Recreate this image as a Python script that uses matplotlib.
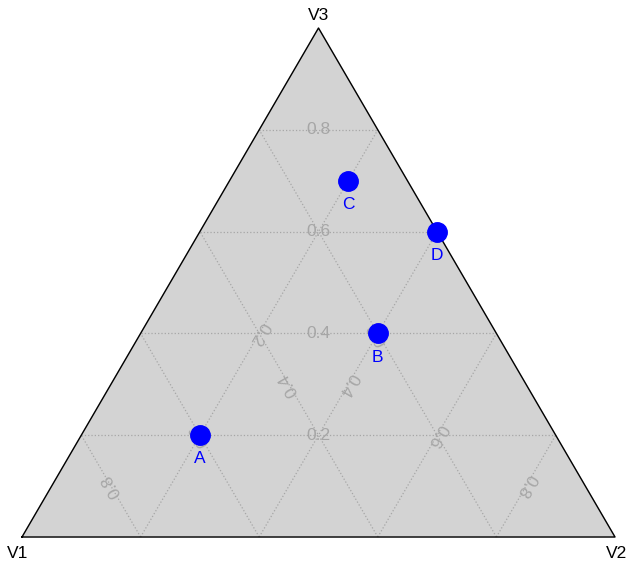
import numpy as np
import matplotlib.pyplot as plt
from matplotlib.transforms import ScaledTranslation

plt.rcParams['font.family'] = ['Liberation Sans', 'DejaVu Sans']

# compositions (V1, V2, V3) of the four samples
names = ['A', 'B', 'C', 'D']
v1 = [0.6, 0.2, 0.1, 0.0]
v2 = [0.2, 0.4, 0.2, 0.4]
v3 = [0.2, 0.4, 0.7, 0.6]

axis_names = ['V1', 'V2', 'V3']
grid_vals = [0.2, 0.4, 0.6, 0.8]

H = np.sqrt(3) / 2
FS = 12.5


def tern(a, b, c):
    # barycentric -> cartesian, V1 bottom-left, V2 bottom-right, V3 top
    a, b, c = np.asarray(a, float), np.asarray(b, float), np.asarray(c, float)
    s = a + b + c
    return (b + c / 2) / s, c * H / s


fig = plt.figure(figsize=(6.27, 5.63), dpi=100)
ax = fig.add_axes([0, 0, 1, 1])
ax.set_xlim(-22 / 593, 605 / 593)
ax.set_ylim(-26 / 587.7, 537 / 587.7)
ax.axis('off')

# triangle
tx, ty = tern([1, 0, 0, 1], [0, 1, 0, 0], [0, 0, 1, 0])
ax.fill(tx, ty, color='#d3d3d3', zorder=0)
ax.plot(tx, ty, color='black', lw=1, zorder=3)

gcol = '#a6a6a6'
for g in grid_vals:
    r = 1 - g
    # V3 = g (horizontal)
    x, y = tern([r, 0], [0, r], [g, g])
    ax.plot(x, y, ls=':', color=gcol, lw=0.9, zorder=1)
    mx, my = tern(r / 2, r / 2, g)
    ax.text(mx, my, f'{g:.1f}', color=gcol, fontsize=FS,
            ha='center', va='center', zorder=2)
    # V1 = g (parallel to right edge)
    x, y = tern([g, g], [r, 0], [0, r])
    ax.plot(x, y, ls=':', color=gcol, lw=0.9, zorder=1)
    mx, my = tern(g, r / 2, r / 2)
    ax.text(mx, my, f'{g:.1f}', color=gcol, fontsize=FS, rotation=120,
            rotation_mode='anchor', ha='center', va='center', zorder=2)
    # V2 = g (parallel to left edge)
    x, y = tern([r, 0], [g, g], [0, r])
    ax.plot(x, y, ls=':', color=gcol, lw=0.9, zorder=1)
    mx, my = tern(r / 2, g, r / 2)
    ax.text(mx, my, f'{g:.1f}', color=gcol, fontsize=FS, rotation=240,
            rotation_mode='anchor', ha='center', va='center', zorder=2)


def shift(dx, dy):
    return ax.transData + ScaledTranslation(dx / 100, dy / 100, fig.dpi_scale_trans)


# vertex names
ax.text(*tern(1, 0, 0), axis_names[0], fontsize=FS, ha='center', va='center',
        transform=shift(-4, -16))
ax.text(*tern(0, 1, 0), axis_names[1], fontsize=FS, ha='center', va='center',
        transform=shift(2, -16))
ax.text(*tern(0, 0, 1), axis_names[2], fontsize=FS, ha='center', va='center',
        transform=shift(0, 13))

# samples
px, py = tern(v1, v2, v3)
ax.plot(px, py, 'o', color='blue', ms=14, zorder=4)
for n, x, y in zip(names, px, py):
    ax.annotate(n, (x, y), xytext=(0, -17), textcoords='offset points',
                color='blue', fontsize=FS, ha='center', va='center', zorder=4)

plt.savefig('out.png', dpi=100)
